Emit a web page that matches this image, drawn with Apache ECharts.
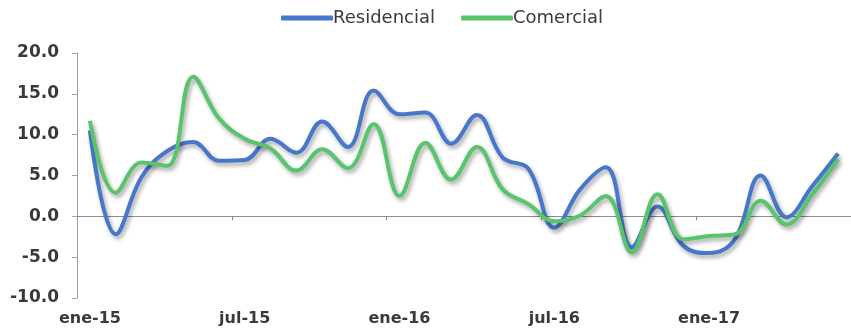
<!DOCTYPE html>
<html>
<head>
<meta charset="utf-8">
<script src="https://cdn.jsdelivr.net/npm/echarts@6/dist/echarts.min.js"></script>
<style>
  html, body { margin: 0; padding: 0; background: #fff; }
  #chart { width: 851px; height: 335px; }
</style>
</head>
<body>
<div id="chart"></div>
<script>
// Monthly categories, Jan 2015 – Jun 2017
const months = [
  'ene-15','feb-15','mar-15','abr-15','may-15','jun-15',
  'jul-15','ago-15','sep-15','oct-15','nov-15','dic-15',
  'ene-16','feb-16','mar-16','abr-16','may-16','jun-16',
  'jul-16','ago-16','sep-16','oct-16','nov-16','dic-16',
  'ene-17','feb-17','mar-17','abr-17','may-17','jun-17'
];

// Annual growth (%)
const residencial = [
  10.5, -2.2, 4.8, 8.0, 9.1, 6.8,
  6.9, 9.5, 7.8, 11.6, 8.5, 15.4,
  12.5, 12.7, 8.9, 12.4, 7.2, 5.8,
  -1.4, 3.3, 6.0, -3.8, 1.2, -3.6,
  -4.5, -2.8, 5.0, -0.1, 3.7, 7.7
];
const comercial = [
  11.7, 2.9, 6.6, 6.2, 17.1, 12.0,
  9.5, 8.3, 5.6, 8.2, 5.9, 11.3,
  2.5, 9.0, 4.5, 8.5, 3.3, 1.5,
  -0.6, 0.1, 2.5, -4.4, 2.7, -2.8,
  -2.4, -2.2, 1.9, -1.0, 2.7, 7.0
];

const yMin = -10, yMax = 20, yStep = 5;

const FONT = '"DejaVu Sans", Arial, sans-serif';
const TEXT = '#3a3a3a';
const shadow = {
  shadowColor: 'rgba(0,0,0,0.35)',
  shadowBlur: 4,
  shadowOffsetX: 2,
  shadowOffsetY: 3
};

const chart = echarts.init(document.getElementById('chart'), null, { renderer: 'canvas' });

chart.setOption({
  animation: false,
  backgroundColor: '#ffffff',
  legend: {
    top: 4,
    left: 276,
    itemWidth: 52,
    itemHeight: 5,
    itemGap: 26,
    icon: 'roundRect',
    textStyle: { fontFamily: FONT, fontSize: 18, color: TEXT, padding: [0, 0, 0, -5] },
    data: ['Residencial', 'Comercial']
  },
  grid: { left: 77, top: 53, height: 245, width: 781.5 },
  xAxis: [
    {
      type: 'category',
      data: months,
      boundaryGap: true,
      axisLine: { onZero: true, lineStyle: { color: '#8c8c8c', width: 1 } },
      axisTick: { show: true, interval: 5, length: 4, lineStyle: { color: '#8c8c8c' } },
      axisLabel: { show: false }
    },
    {
      type: 'category',
      data: months,
      boundaryGap: true,
      position: 'bottom',
      axisLine: { show: false, onZero: false },
      axisTick: { show: false },
      axisLabel: {
        interval: 5,
        margin: 13,
        fontFamily: FONT,
        fontSize: 16,
        fontWeight: 'bold',
        color: TEXT
      }
    }
  ],
  yAxis: {
    type: 'value',
    min: yMin,
    max: yMax,
    interval: yStep,
    axisLine: { show: true, lineStyle: { color: '#a0a0a0', width: 1 } },
    axisTick: { show: true, inside: false, length: 5, lineStyle: { color: '#a0a0a0' } },
    splitLine: { show: false },
    axisLabel: {
      margin: 18,
      fontFamily: FONT,
      fontSize: 17,
      fontWeight: 'bold',
      color: TEXT,
      formatter: v => v.toFixed(1)
    }
  },
  series: [
    {
      name: 'Residencial',
      type: 'line',
      xAxisIndex: 0,
      data: residencial,
      smooth: 0.4,
      symbol: 'none',
      color: '#4677cc',
      lineStyle: Object.assign({ width: 4, color: '#4677cc' }, shadow)
    },
    {
      name: 'Comercial',
      type: 'line',
      xAxisIndex: 0,
      data: comercial,
      smooth: 0.4,
      symbol: 'none',
      color: '#58c46c',
      lineStyle: Object.assign({ width: 4, color: '#58c46c' }, shadow)
    }
  ]
});
</script>
</body>
</html>
